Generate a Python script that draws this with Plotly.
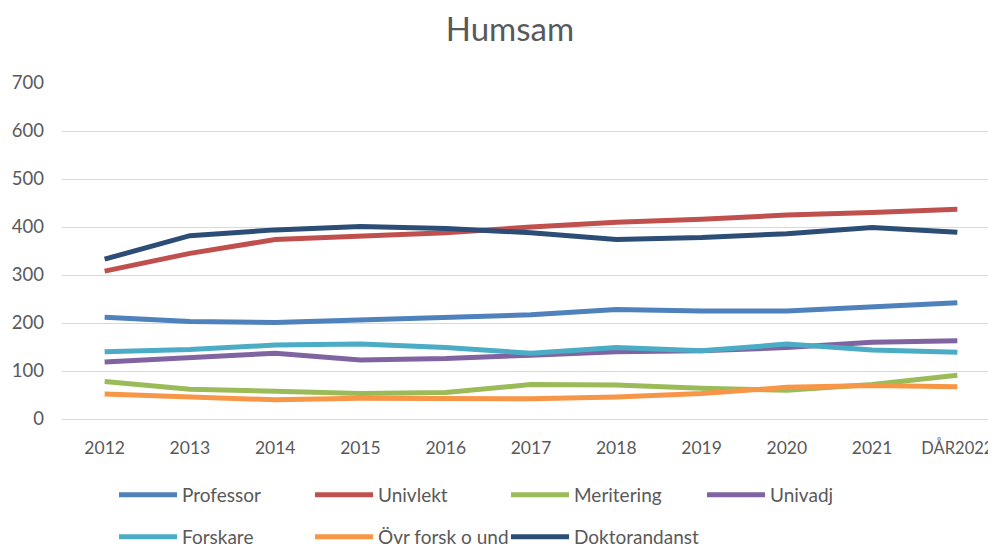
import plotly.graph_objects as go

years = ["2012", "2013", "2014", "2015", "2016", "2017", "2018", "2019", "2020", "2021", "DÅR2022"]
tick_labels = ["2012", "2013", "2014", "2015", "2016", "2017", "2018", "2019", "2020", "2021", "DÅR2022"]

professor = [212, 203, 201, 206, 211, 217, 228, 225, 225, 233, 242]
univlekt = [308, 345, 374, 380, 388, 400, 410, 416, 425, 430, 437]
meritering = [78, 62, 58, 53, 55, 72, 71, 64, 60, 72, 91]
univadj = [119, 128, 137, 123, 126, 133, 140, 142, 149, 160, 163]
forskare = [140, 145, 154, 156, 149, 137, 149, 142, 156, 144, 139]
ovr_forsk = [52, 46, 40, 43, 42, 42, 46, 53, 66, 70, 67]
doktorand = [333, 382, 394, 401, 397, 388, 374, 378, 386, 399, 389]

series = [
    ("Professor", professor, "#4F81BD", "legend"),
    ("Univlekt", univlekt, "#C0504D", "legend"),
    ("Meritering", meritering, "#9BBB59", "legend"),
    ("Univadj", univadj, "#8064A2", "legend"),
    ("Forskare", forskare, "#4BACC6", "legend2"),
    ("Övr forsk o und", ovr_forsk, "#F79646", "legend2"),
    ("Doktorandanst", doktorand, "#2C4D75", "legend2"),
]

FONT = "Lato"
GREY = "#595959"
W, H = 996, 547

# the long last label is drawn a little smaller so it fits inside the page
shown_ticks = tick_labels[:-1] + ['<span style="font-size:16.5px">' + tick_labels[-1] + "</span>"]

fig = go.Figure()
for name, vals, color, leg in series:
    fig.add_trace(go.Scatter(
        x=years, y=vals, name=name, mode="lines",
        line=dict(color=color, width=5),
        legend=leg,
    ))

legend_common = dict(
    orientation="h", xanchor="left", yanchor="middle",
    xref="container", yref="container",
    font=dict(family=FONT, size=19, color=GREY),
    entrywidth=123, entrywidthmode="pixels", itemwidth=58,
    bgcolor="rgba(0,0,0,0)",
)

fig.update_layout(
    width=W, height=H,
    margin=dict(l=54, r=4, t=75, b=136, autoexpand=False),
    paper_bgcolor="white", plot_bgcolor="white",
    title=dict(text="Humsam", x=0.504, xanchor="center", y=0.961, yanchor="middle",
               font=dict(family=FONT, size=33, color=GREY)),
    font=dict(family=FONT, color=GREY),
    showlegend=True,
    legend=dict(x=106 / W, y=1 - 487 / H, **legend_common),
    legend2=dict(x=106 / W, y=1 - 529 / H, **legend_common),
    xaxis=dict(
        type="category", range=[-0.5, 10.5], showgrid=False, zeroline=False, showline=False,
        tickmode="array", tickvals=years, ticktext=shown_ticks,
        ticks="", tickfont=dict(family=FONT, size=17.5, color=GREY),
        ticklabelstandoff=16, fixedrange=True, automargin=False,
    ),
    yaxis=dict(
        range=[0, 700], dtick=100, showgrid=True, gridcolor="#D9D9D9", gridwidth=1,
        zeroline=True, zerolinecolor="#D9D9D9", zerolinewidth=1, showline=False,
        ticks="", tickfont=dict(family=FONT, size=18.5, color=GREY),
        ticklabelstandoff=17, fixedrange=True, automargin=False,
    ),
)

fig.write_html("out.html")
